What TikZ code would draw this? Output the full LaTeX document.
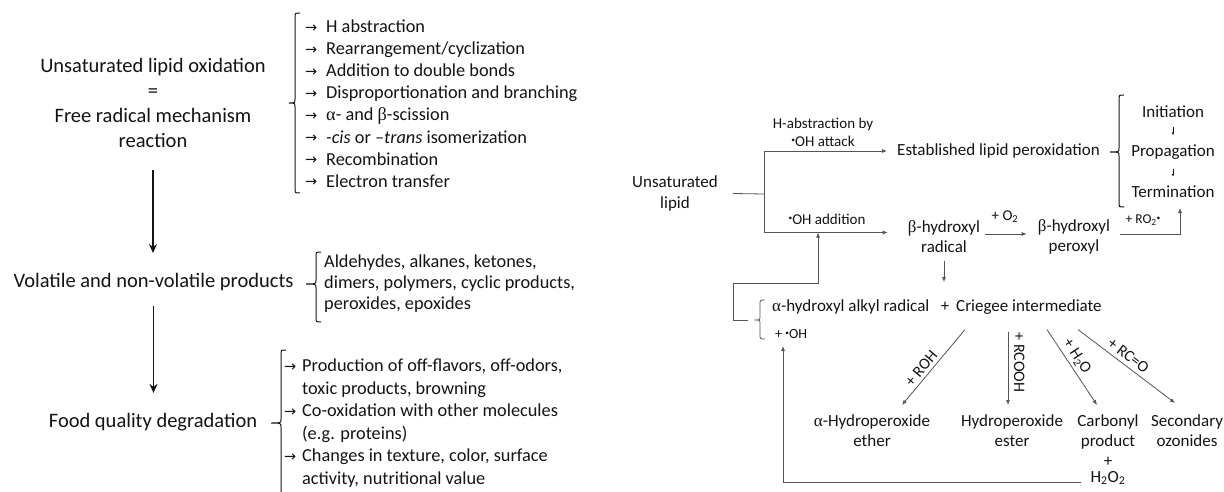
\documentclass[tikz,border=0pt]{standalone}
\usepackage{fontspec}
\setmainfont{Carlito}
\newfontfamily\grkfont{Liberation Serif}
\newfontfamily\arrfont{DejaVu Sans}
\usetikzlibrary{arrows.meta}
\definecolor{ln}{RGB}{85,85,85}
\definecolor{tx}{RGB}{20,20,20}
\newcommand{\galpha}{{\grkfont α}}
\newcommand{\gbeta}{{\grkfont β}}
\newcommand{\larr}[1]{\makebox[#1][l]{\raisebox{0.3pt}{\fontsize{14.5}{14.5}\arrfont →}}}
\newcommand{\rad}{\raisebox{0.22em}{\fontsize{7.5}{7.5}\selectfont •}}
\newcommand{\drawbracket}[5]{%
  \draw[brk] (#1+5,#2) .. controls (#1,#2) .. (#1,#2+5) -- (#1,#4-4) .. controls (#1,#4) .. (#1-#5,#4) .. controls (#1,#4) .. (#1,#4+4) -- (#1,#3-5) .. controls (#1,#3) .. (#1+5,#3);}
\begin{document}
\begin{tikzpicture}[x=1pt,y=-1pt,
  every node/.style={inner sep=0pt,text=tx},
  big/.style={font=\fontsize{20.5}{25}\selectfont,align=center},
  lst/.style={font=\fontsize{18.3}{22.1}\selectfont,anchor=west},
  rt/.style={font=\fontsize{17}{20}\selectfont,align=center},
  lab/.style={font=\fontsize{15}{18}\selectfont,align=center},
  dlab/.style={font=\fontsize{16}{18}\selectfont},
  bigarr/.style={draw=tx,line width=1.4pt,-{Stealth[length=9pt,width=8pt]}},
  flow/.style={draw=ln,line width=0.8pt},
  flowarr/.style={flow,-{Latex[length=5pt,width=4pt]}},
  tinyarr/.style={draw=tx,line width=0.6pt,-{Latex[length=3pt,width=2.5pt]},shorten <=9pt,shorten >=9pt},
  brk/.style={draw=tx,line width=1pt}]
\fill[white] (0,0) rectangle (1224,492);
\useasboundingbox (0,0) rectangle (1224,492);

% ---------- left column ----------
\node[big] (n1) at (153,102.5) {Unsaturated lipid oxidation\\=\\Free radical mechanism\\reaction};
\node[lst] (l1) at (305,105.5) {\begin{tabular}{@{}l@{}l@{}}
\larr{21pt}&H abstraction\\
\larr{21pt}&Rearrangement/cyclization\\
\larr{21pt}&Addition to double bonds\\
\larr{21pt}&Disproportionation and branching\\
\larr{21pt}&\galpha- and \gbeta-scission\\
\larr{21pt}&\textit{-cis} or \textit{–trans} isomerization\\
\larr{21pt}&Recombination\\
\larr{21pt}&Electron transfer
\end{tabular}};
\drawbracket{295}{13}{193}{103}{6}

\node[big] (n2) at (153.5,282) {Volatile and non-volatile products};
\node[lst,font=\fontsize{18.3}{21}\selectfont] (l2) at (324,284) {\begin{tabular}{@{}l@{}}
Aldehydes, alkanes, ketones,\\
dimers, polymers, cyclic products,\\
peroxides, epoxides
\end{tabular}};
\drawbracket{316}{252}{322}{284}{10}

\node[big] (n3) at (153,422) {Food quality degradation};
\node[lst,font=\fontsize{18.3}{22.6}\selectfont] (l3) at (284,423.5) {\begin{tabular}{@{}l@{}l@{}}
\larr{18pt}&Production of off-flavors, off-odors,\\
&toxic products, browning\\
\larr{18pt}&Co-oxidation with other molecules\\
&(e.g. proteins)\\
\larr{18pt}&Changes in texture, color, surface\\
&activity, nutritional value
\end{tabular}};
\drawbracket{281}{350}{496}{423}{10}

\draw[bigarr,shorten <=23pt,shorten >=20pt] (n1.south) -- (n1.south |- n2.north);
\draw[bigarr,shorten <=15pt,shorten >=20pt] (n2.south) -- (n2.south |- n3.north);

% ---------- right diagram ----------
\node[rt,font=\fontsize{17}{21}\selectfont] (u) at (675,193.5) {Unsaturated\\lipid};
\coordinate (j) at (764,194);
\draw[flow] ([xshift=15pt]u.east) -- (j);

\node[rt,anchor=west] (est) at (897,151) {Established lipid peroxidation};
\node[rt] (brad) at (944,236.5) {\gbeta-hydroxyl\\radical};
\draw[flowarr,shorten >=10pt] (j) |- (est.west);
\draw[flowarr,shorten >=20pt] (j) |- ([yshift=4pt]brad.west);
\node[lab] (labH) at (823,132) {H-abstraction by\\\rad OH attack};
\node[lab] (labOH) at (827,219) {\rad OH addition};

\drawbracket{1119}{95}{207}{152}{9}
\node[rt] (init) at (1173,112) {Initiation};
\node[rt] (prop) at (1173,152) {Propagation};
\node[rt] (term) at (1173,192) {Termination};
\draw[tinyarr] (init) -- (prop);
\draw[tinyarr] (prop) -- (term);

\node[rt] (bper) at (1074,236.5) {\gbeta-hydroxyl\\peroxyl};
\draw[flowarr,shorten <=5pt,shorten >=11pt] ([yshift=2.5pt]brad.east) -- ([yshift=2.5pt]bper.west);
\node[lab] (labO2) at (1005,217) {+ O\textsubscript{2}};
\coordinate (roend) at (1180,208);
\draw[flowarr,shorten <=10pt] ([yshift=2.5pt]bper.east) -| (roend);
\node[lab,font=\fontsize{13.5}{16}\selectfont] (labRO) at (1143,220) {+ RO\textsubscript{2}\rad};

\node[rt,anchor=west] (ahr) at (772,307) {\galpha-hydroxyl alkyl radical};
\node[rt] (plus) at (945,307) {+};
\node[rt,anchor=west] (crieg) at (956,307) {Criegee intermediate};
\draw[flowarr,shorten <=8pt,shorten >=20pt] (brad.south) -- (brad.south |- plus.north);

\begin{scope}[brk/.append style={draw=ln,line width=0.8pt}]
\drawbracket{760}{300}{339}{320}{6}
\end{scope}
\node[lab,font=\fontsize{14}{16}\selectfont,anchor=west] (ohp) at (775,334) {+ \rad OH};

\coordinate (fbA) at (748,320);
\coordinate (fbB) at (733,283);
\coordinate (addpt) at (818,232.5);
\draw[flowarr] (fbA) -| (fbB) -| (addpt);

\node[rt,anchor=north] (aether) at (872,414) {\galpha-Hydroperoxide\\ether};
\node[rt,anchor=north] (hester) at (1012,414) {Hydroperoxide\\ester};
\node[rt,anchor=north] (carb) at (1108,414) {Carbonyl\\product\\+};
\node[rt] (h2o2) at (1108,478) {H\textsubscript{2}O\textsubscript{2}};
\node[rt,anchor=north] (secoz) at (1187,414) {Secondary\\ozonides};

\coordinate (ohtip) at (783,346);
\draw[flowarr,shorten <=9pt] ([yshift=-4pt]h2o2.west) -| (ohtip);

\coordinate (s1) at ([xshift=9pt,yshift=-15pt]crieg.south west);
\coordinate (s2) at ([xshift=52pt,yshift=-17pt]crieg.south west);
\coordinate (s3) at ([xshift=91pt,yshift=-15pt]crieg.south west);
\coordinate (s4) at ([xshift=122pt,yshift=-15pt]crieg.south west);
\coordinate (e1) at ([xshift=30pt,yshift=9pt]aether.north);
\coordinate (e2) at ([xshift=-4pt,yshift=9pt]hester.north);
\coordinate (e3) at ([xshift=-11pt,yshift=9pt]carb.north);
\coordinate (e4) at ([xshift=-12pt,yshift=11pt]secoz.north);

\draw[flowarr] (s1) -- (e1) node[pos=0.59,sloped,above=3pt,dlab] (lROH) {+ ROH};
\draw[flowarr] (s2) -- (e2) node[pos=0.42,anchor=south,rotate=-90,outer sep=6pt,dlab] (lRCOOH) {+ RCOOH};
\draw[flowarr] (s3) -- (e3) node[pos=0.43,sloped,above=3pt,dlab] (lH2O) {+ H\textsubscript{2}O};
\draw[flowarr] (s4) -- (e4) node[pos=0.46,sloped,above=4pt,dlab] (lRCO) {+ RC=O};
\end{tikzpicture}
\end{document}
